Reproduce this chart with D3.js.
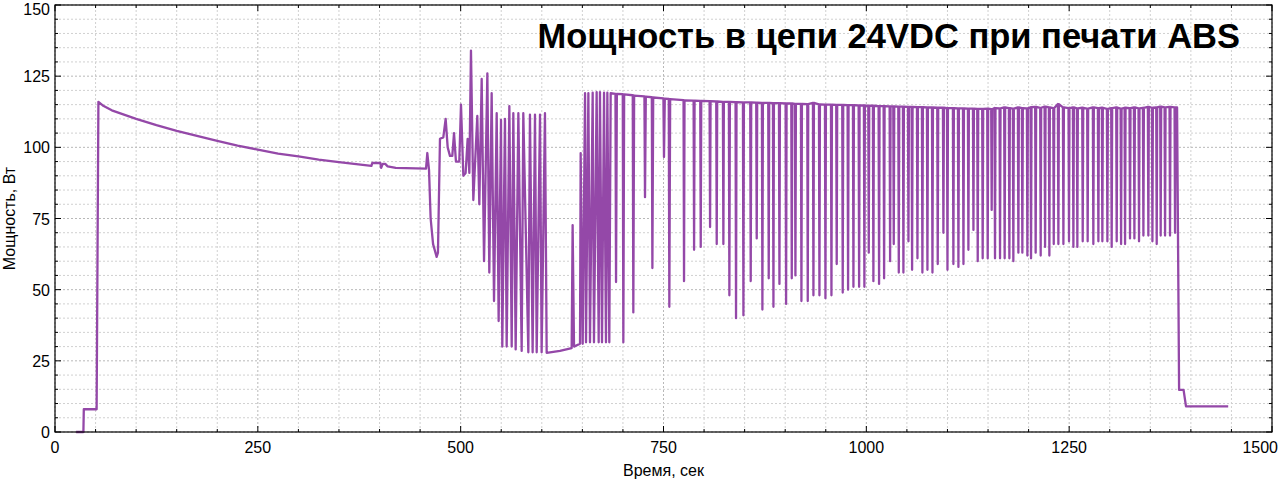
<!DOCTYPE html><html><head><meta charset="utf-8">
<script src="https://cdn.jsdelivr.net/npm/d3@7"></script>
<style>body{margin:0;background:#fff}text{font-family:"Liberation Sans",Arial,sans-serif}</style></head><body>
<svg id="c" width="1280" height="487"></svg>
<script>
const title="Мощность в цепи 24VDC при печати ABS";
const xLabel="Время, сек", yLabel="Мощность, Вт";
const xTicks=[0,250,500,750,1000,1250,1500];
const yTicks=[0,25,50,75,100,125,150];
const prePoints=[[26,0],[35,0],[35.5,8],[51.3,8],[53.5,116],[60,114.5],[70,113],[85,111.5],[100,110],[125,107.8],[150,105.8],[175,104],[200,102.3],[225,100.6],[250,99.2],[275,97.8],[300,96.8],[325,95.7],[350,94.8],[390,93.5],[391,94.5],[401,94.5],[402,92.8],[404,94.2],[407,94.2],[410,93.3],[420,92.8],[457.3,92.5],[458.9,98],[461,92],[463,75],[466,66],[470.4,61.5],[472,63],[474.5,103],[478.6,103.5],[481.5,110],[484,100],[486.8,97],[489.7,97],[491.8,105],[494.2,95],[498.3,95],[500.4,115],[503.3,90],[506.1,91],[508.6,103],[510.7,91],[512.7,134],[515.6,81.5],[520.5,111],[523,80],[525.9,124],[528.8,60],[532.9,126],[535.3,56],[538.2,119],[541.1,46],[544.4,112],[546.8,39],[549.7,109.6],[551.3,30],[554.6,110],[556.7,30],[560,114.5],[562.9,30],[564.9,112],[567.8,29],[571.1,112],[575.2,28.5],[577.2,112],[583.4,28],[585.4,111.5],[588.7,28],[591.6,111.5],[593.7,28],[597.8,111.5],[599.8,28],[603.9,112],[606,27.8],[622.4,28.5],[636.8,29.5],[638,72.7],[639.7,30],[647.1,31],[647.9,98],[650.4,31],[653.3,119],[654.5,31.5],[657.4,119],[659.4,31.5],[662.7,119.2],[664.3,31.5],[667.6,119.4],[670.1,31.5],[671.7,119.4],[674.2,31.5],[676.7,119.2],[679.1,31.5],[680.8,119.2],[683.2,31.5],[684.9,119],[690.8,118.8],[691.5,52.7],[692.5,118.8],[699.8,118.7],[700.5,31.5],[701.5,118.6],[712.1,118.3],[712.8,42],[713.8,118.2],[726.5,117.9],[727.2,82.5],[728.2,117.8],[735.6,117.6],[736.3,57.6],[737.3,117.5],[749.9,117.2],[750.6,96.6],[751.6,117.1],[756.5,117],[757.2,44],[758.2,116.9],[774.6,116.6]];
const dipT=[775.3,787.7,795.9,807.4,815.6,823.8,831.2,839.4,848.5,857.5,864.9,871.9,879.7,885.5,892.9,901.1,908.1,912.6,920,927.8,934.8,942.2,949.6,957,963.5,970.9,977.5,984.1,991.1,997.6,1003,1008.7,1015.7,1021.9,1029.3,1033.8,1040,1045.7,1051.9,1056.4,1063,1069.1,1075.3,1081.5,1088,1095,1100,1107.3,1113.5,1119.7,1125.8,1132,1137.3,1143.4,1149.6,1154.5,1158.6,1164.8,1170.5,1176.3,1181.2,1187.4,1192.3,1198.5,1203,1208.7,1214.9,1220.3,1225.6,1231,1236.7,1242.9,1249.8,1255.2,1260.1,1266.7,1272.8,1279.8,1286,1290.9,1297.1,1302.4,1308.6,1314,1318.9,1325,1330.4,1336.1,1341.5,1347.6,1352.6,1357.9,1362.8,1368.2,1374.3,1380.5];
const dipLow=[53,64,65,72,66,66,48,40,41,53,68,43,54,44,52,45,54,55,46,46,48,48,47,48,59,49,50,51,51,51,63,53,52,54,60,66,56,56,67,57,61,56,57,56,59,70,57,59,58,59,64,71,60,61,61,78,61,61,61,61,60,63,63,62,61,63,62,65,62,66,66,66,67,65,65,67,67,66,67,67,67,65,67,66,66,68,68,67,69,69,67,66,69,69,69,70];
const dipPeak=[116.5,116.4,116.3,116.2,116.1,116,116,115.9,115.8,115.8,115.7,115.6,115.6,115.5,115.5,115.4,115.4,115.3,115.3,115.2,115.6,115.1,115,115,114.9,114.9,114.8,114.8,114.7,114.7,114.6,114.6,114.5,114.5,114.4,114.4,114.3,114.3,114.2,114.2,114.1,114.1,114,114,113.9,113.9,113.8,113.8,113.7,113.7,113.6,113.6,113.5,113.5,113.6,113.4,113.8,113.7,114,113.8,113.6,114,113.8,113.7,114.1,114.2,113.9,114.3,114,113.8,115.2,114,113.8,114,113.7,113.9,113.6,114,113.8,113.9,113.5,113.8,114,113.6,113.9,113.8,114,113.7,113.9,114.2,113.9,114,114.3,114,114.2,114];
const postPoints=[[1383,114],[1385.5,14.8],[1391,14.8],[1394,9],[1446,9]];

const points=prePoints.slice();
dipT.forEach((t,i)=>{points.push([t-0.6,dipPeak[i]],[t,dipLow[i]],[t+0.6,dipPeak[i]]);});
postPoints.forEach(p=>points.push(p));

const W=1280,H=487,m={l:55,r:8,t:5,b:55};
const svg=d3.select("#c");
const x=d3.scaleLinear().domain([0,1500]).range([m.l,W-m.r]);
const y=d3.scaleLinear().domain([0,150]).range([H-m.b,m.t]);
const g=svg.append("g");
const xm=d3.range(0,1501,50), ym=d3.range(0,151,5);
g.selectAll(".gx").data(xm).join("line").attr("x1",d=>x(d)).attr("x2",d=>x(d)).attr("y1",y(0)).attr("y2",y(150))
 .attr("stroke",d=>d%250?"#d0d0d0":"#b8b8b8").attr("stroke-dasharray","2,2").attr("stroke-width",1);
g.selectAll(".gy").data(ym).join("line").attr("y1",d=>y(d)).attr("y2",d=>y(d)).attr("x1",x(0)).attr("x2",x(1500))
 .attr("stroke",d=>d%25?"#d0d0d0":"#b8b8b8").attr("stroke-dasharray","2,2").attr("stroke-width",1);
svg.append("path").datum(points).attr("fill","none").attr("stroke","#9448a8").attr("stroke-width",2.3).attr("stroke-linejoin","round")
 .attr("d",d3.line().x(d=>x(d[0])).y(d=>y(d[1])));
svg.append("rect").attr("x",x(0)).attr("y",y(150)).attr("width",x(1500)-x(0)).attr("height",y(0)-y(150)).attr("fill","none").attr("stroke","#000").attr("stroke-width",1.2);
const tk=svg.append("g").attr("stroke","#000").attr("stroke-width",1);
xm.forEach(v=>{const L=v%250?3:6;tk.append("line").attr("x1",x(v)).attr("x2",x(v)).attr("y1",y(0)).attr("y2",y(0)-L);tk.append("line").attr("x1",x(v)).attr("x2",x(v)).attr("y1",y(150)).attr("y2",y(150)+L);});
ym.forEach(v=>{const L=v%25?3:6;tk.append("line").attr("y1",y(v)).attr("y2",y(v)).attr("x1",x(0)).attr("x2",x(0)+L);tk.append("line").attr("y1",y(v)).attr("y2",y(v)).attr("x1",x(1500)).attr("x2",x(1500)-L);});
svg.selectAll(".xt").data(xTicks).join("text").attr("x",d=>d===1500?1278:x(d)).attr("y",y(0)+21)
 .attr("text-anchor",d=>d===1500?"end":"middle").attr("font-size",16).text(d=>d);
svg.selectAll(".yt").data(yTicks).join("text").attr("x",x(0)-5).attr("y",d=>d===150?y(d)+10:y(d)+6).attr("text-anchor","end").attr("font-size",16).text(d=>d);
svg.append("text").attr("x",(x(0)+x(1500))/2).attr("y",476).attr("text-anchor","middle").attr("font-size",16).text(xLabel);
svg.append("text").attr("transform",`translate(15,${(y(0)+y(150))/2}) rotate(-90)`).attr("text-anchor","middle").attr("font-size",16).text(yLabel);
svg.append("text").attr("x",1240).attr("y",48).attr("text-anchor","end").attr("font-size",34.5).attr("font-weight","bold").text(title);
</script></body></html>
